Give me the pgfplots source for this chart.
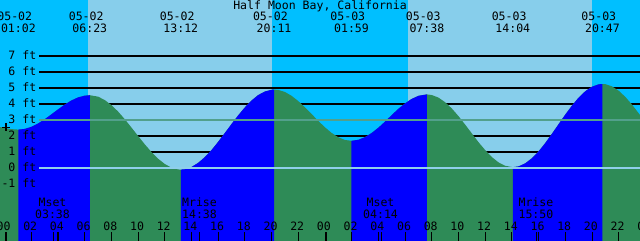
\documentclass[border=0pt]{standalone}
\usepackage{fontspec}
\setmainfont{DejaVu Sans Mono}
\usepackage{pgfplots}
\pgfplotsset{compat=1.18}
\usepackage{pgfplotstable}
\definecolor{nightsky}{HTML}{00BFFF}
\definecolor{daysky}{HTML}{87CEEB}
\definecolor{flood}{HTML}{0000FF}
\definecolor{ebb}{HTML}{2E8B57}
\definecolor{msl}{HTML}{52A08C}
\definecolor{datum}{HTML}{8FCFEA}
\newcommand\xf{\fontsize{8.2}{10}\selectfont}
% tide level (ft) against hours from 05-02 00:00, bottom corners closing the water area
\pgfplotstableread{
t h
-0.40 2.57
0.00 2.50
0.50 2.43
1.03 2.40
1.50 2.44
2.00 2.57
2.50 2.78
3.00 3.04
3.50 3.35
4.00 3.66
4.50 3.96
5.00 4.22
5.50 4.41
6.00 4.52
6.38 4.55
7.00 4.46
7.50 4.25
8.00 3.93
8.50 3.53
9.00 3.05
9.50 2.53
10.00 2.00
10.50 1.48
11.00 1.00
11.50 0.58
12.00 0.25
12.50 0.02
13.00 -0.09
13.20 -0.10
13.50 -0.08
14.00 0.06
14.50 0.32
15.00 0.68
15.50 1.12
16.00 1.64
16.50 2.19
17.00 2.75
17.50 3.29
18.00 3.79
18.50 4.22
19.00 4.56
19.50 4.78
20.00 4.89
20.18 4.90
20.50 4.88
21.00 4.75
21.50 4.51
22.00 4.18
22.50 3.79
23.00 3.37
23.50 2.94
24.00 2.54
24.50 2.19
25.00 1.92
25.50 1.75
25.98 1.70
26.50 1.76
27.00 1.93
27.50 2.19
28.00 2.52
28.50 2.90
29.00 3.31
29.50 3.70
30.00 4.04
30.50 4.32
31.00 4.51
31.63 4.60
32.00 4.56
32.50 4.40
33.00 4.11
33.50 3.72
34.00 3.24
34.50 2.71
35.00 2.16
35.50 1.61
36.00 1.12
36.50 0.68
37.00 0.35
37.50 0.14
38.07 0.05
38.50 0.10
39.00 0.29
39.50 0.61
40.00 1.04
40.50 1.56
41.00 2.14
41.50 2.74
42.00 3.34
42.50 3.90
43.00 4.40
43.50 4.80
44.00 5.08
44.50 5.23
44.78 5.25
45.00 5.24
45.50 5.10
46.00 4.83
46.50 4.44
47.00 3.96
47.65 3.25
47.65 -4.60
-0.40 -4.60
}\water
\begin{document}
\begin{tikzpicture}[lbl/.style={font=\xf, inner sep=0pt, anchor=base}]
\useasboundingbox (0,0) rectangle (16cm,6cm);
\clip (0,0) rectangle (16cm,6cm);
\begin{axis}[at={(0,0)}, anchor=south west, scale only axis,
  width=16cm, height=6cm,
  xmin=-0.3446, xmax=47.596, ymin=-4.5, ymax=10.5,
  axis lines=none, xtick=\empty, ytick=\empty, clip=false]
% sky
\addplot[fill=daysky, draw=none] coordinates {(-1,-5) (49,-5) (49,11) (-1,11) (-1,-5)};
\addplot[fill=nightsky, draw=none] coordinates {(-1,-5) (6.247,-5) (6.247,11) (-1,11) (-1,-5)};
\addplot[fill=nightsky, draw=none] coordinates {(20.03,-5) (30.2,-5) (30.2,11) (20.03,11) (20.03,-5)};
\addplot[fill=nightsky, draw=none] coordinates {(44.0,-5) (49,-5) (49,11) (44.0,11) (44.0,-5)};
% grid lines
\pgfplotsinvokeforeach{-1,1,2,4,5,6,7}{
  \addplot[black, line width=0.72pt] coordinates {(2.577,#1) (48,#1)};
}
% water: ebb (falling) everywhere, flood (rising) segments on top
\addplot[fill=ebb, draw=none] table[x=t, y=h] {\water};
\addplot[fill=flood, draw=none] coordinates {(1.03,-4.6) (1.03,2.40) (1.50,2.44) (2.00,2.57) (2.50,2.78) (3.00,3.04) (3.50,3.35) (4.00,3.66) (4.50,3.96) (5.00,4.22) (5.50,4.41) (6.00,4.52) (6.38,4.55) (6.38,-4.6)};
\addplot[fill=flood, draw=none] coordinates {(13.20,-4.6) (13.20,-0.10) (13.50,-0.08) (14.00,0.06) (14.50,0.32) (15.00,0.68) (15.50,1.12) (16.00,1.64) (16.50,2.19) (17.00,2.75) (17.50,3.29) (18.00,3.79) (18.50,4.22) (19.00,4.56) (19.50,4.78) (20.00,4.89) (20.18,4.90) (20.18,-4.6)};
\addplot[fill=flood, draw=none] coordinates {(25.98,-4.6) (25.98,1.70) (26.50,1.76) (27.00,1.93) (27.50,2.19) (28.00,2.52) (28.50,2.90) (29.00,3.31) (29.50,3.70) (30.00,4.04) (30.50,4.32) (31.00,4.51) (31.63,4.60) (31.63,-4.6)};
\addplot[fill=flood, draw=none] coordinates {(38.07,-4.6) (38.07,0.05) (38.50,0.10) (39.00,0.29) (39.50,0.61) (40.00,1.04) (40.50,1.56) (41.00,2.14) (41.50,2.74) (42.00,3.34) (42.50,3.90) (43.00,4.40) (43.50,4.80) (44.00,5.08) (44.50,5.23) (44.78,5.25) (44.78,-4.6)};
% datum and msl
\addplot[datum, line width=0.72pt] coordinates {(2.577,0) (48,0)};
\addplot[msl, line width=0.72pt] coordinates {(2.577,3) (48,3)};
% mark
\addplot[only marks, mark=+, mark size=2.8pt, black, mark options={line width=0.72pt}] coordinates {(0.105,2.56)};
% ticks
\pgfplotsinvokeforeach{2,4,6,8,10,12,14,16,18,20,22,26,28,30,32,34,36,38,40,42,44,46,3.633,14.633,28.233,39.833}{
  \addplot[black, line width=0.72pt] coordinates {(#1,-4.0) (#1,-4.6)};
}
\pgfplotsinvokeforeach{0.1,24.1,48.1}{
  \addplot[black, line width=1.45pt] coordinates {(#1,-4.0) (#1,-4.6)};
}
% y labels
\node[lbl, anchor=base east] at (axis cs:2.39,6.78) {7 ft};
\node[lbl, anchor=base east] at (axis cs:2.39,5.78) {6 ft};
\node[lbl, anchor=base east] at (axis cs:2.39,4.78) {5 ft};
\node[lbl, anchor=base east] at (axis cs:2.39,3.78) {4 ft};
\node[lbl, anchor=base east] at (axis cs:2.39,2.78) {3 ft};
\node[lbl, anchor=base east] at (axis cs:2.39,1.78) {2 ft};
\node[lbl, anchor=base east] at (axis cs:2.39,0.78) {1 ft};
\node[lbl, anchor=base east] at (axis cs:2.39,-0.22) {0 ft};
\node[lbl, anchor=base east] at (axis cs:2.39,-1.22) {-1 ft};
% title
\node[lbl] at (axis cs:23.63,9.875) {Half Moon Bay, California};
% tide events
\node[lbl] at (axis cs:0.76,9.1875) {05-02};  \node[lbl] at (axis cs:1.033,8.4375) {01:02};
\node[lbl] at (axis cs:6.11,9.1875) {05-02};  \node[lbl] at (axis cs:6.383,8.4375) {06:23};
\node[lbl] at (axis cs:12.93,9.1875) {05-02}; \node[lbl] at (axis cs:13.2,8.4375) {13:12};
\node[lbl] at (axis cs:19.91,9.1875) {05-02}; \node[lbl] at (axis cs:20.183,8.4375) {20:11};
\node[lbl] at (axis cs:25.71,9.1875) {05-03}; \node[lbl] at (axis cs:25.983,8.4375) {01:59};
\node[lbl] at (axis cs:31.36,9.1875) {05-03}; \node[lbl] at (axis cs:31.633,8.4375) {07:38};
\node[lbl] at (axis cs:37.79,9.1875) {05-03}; \node[lbl] at (axis cs:38.067,8.4375) {14:04};
\node[lbl] at (axis cs:44.51,9.1875) {05-03}; \node[lbl] at (axis cs:44.783,8.4375) {20:47};
% moon events
\node[lbl] at (axis cs:3.59,-2.375) {Mset};   \node[lbl] at (axis cs:3.59,-3.125) {03:38};
\node[lbl] at (axis cs:14.6,-2.375) {Mrise};  \node[lbl] at (axis cs:14.6,-3.125) {14:38};
\node[lbl] at (axis cs:28.16,-2.375) {Mset};  \node[lbl] at (axis cs:28.16,-3.125) {04:14};
\node[lbl] at (axis cs:39.8,-2.375) {Mrise};  \node[lbl] at (axis cs:39.8,-3.125) {15:50};
% hour labels
\node[lbl] at (axis cs:-0.08,-3.875) {00};
\node[lbl] at (axis cs:1.92,-3.875) {02};
\node[lbl] at (axis cs:3.92,-3.875) {04};
\node[lbl] at (axis cs:5.92,-3.875) {06};
\node[lbl] at (axis cs:7.92,-3.875) {08};
\node[lbl] at (axis cs:9.92,-3.875) {10};
\node[lbl] at (axis cs:11.92,-3.875) {12};
\node[lbl] at (axis cs:13.92,-3.875) {14};
\node[lbl] at (axis cs:15.92,-3.875) {16};
\node[lbl] at (axis cs:17.92,-3.875) {18};
\node[lbl] at (axis cs:19.92,-3.875) {20};
\node[lbl] at (axis cs:21.92,-3.875) {22};
\node[lbl] at (axis cs:23.92,-3.875) {00};
\node[lbl] at (axis cs:25.92,-3.875) {02};
\node[lbl] at (axis cs:27.92,-3.875) {04};
\node[lbl] at (axis cs:29.92,-3.875) {06};
\node[lbl] at (axis cs:31.92,-3.875) {08};
\node[lbl] at (axis cs:33.92,-3.875) {10};
\node[lbl] at (axis cs:35.92,-3.875) {12};
\node[lbl] at (axis cs:37.92,-3.875) {14};
\node[lbl] at (axis cs:39.92,-3.875) {16};
\node[lbl] at (axis cs:41.92,-3.875) {18};
\node[lbl] at (axis cs:43.92,-3.875) {20};
\node[lbl] at (axis cs:45.92,-3.875) {22};
\node[lbl] at (axis cs:47.92,-3.875) {00};
\end{axis}
\end{tikzpicture}
\end{document}
